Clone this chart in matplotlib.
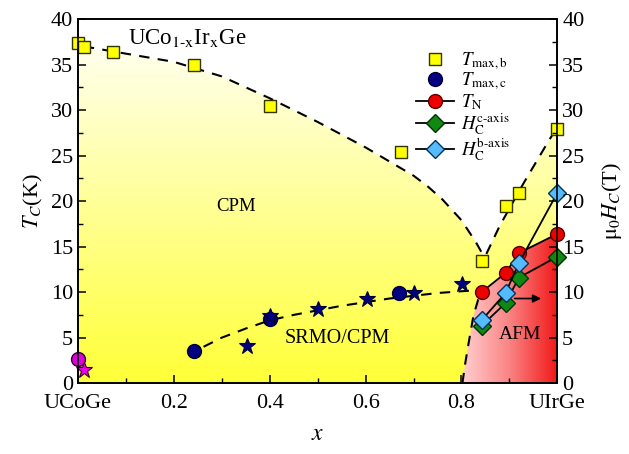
import numpy as np
import matplotlib
matplotlib.use("Agg")
import matplotlib.pyplot as plt
from matplotlib.patches import Polygon
from matplotlib.colors import LinearSegmentedColormap
from matplotlib.ticker import MultipleLocator

plt.rcParams['font.family'] = ['Liberation Serif', 'DejaVu Serif']
plt.rcParams['mathtext.fontset'] = 'stix'

# ---- data ----
tmaxb_x = [0.0, 0.012, 0.073, 0.242, 0.40, 0.673, 0.842, 0.892, 0.92, 1.0]
tmaxb_y = [37.4, 36.9, 36.4, 34.9, 30.4, 25.4, 13.4, 19.5, 20.9, 27.9]

tmaxc_x = [0.242, 0.40, 0.67]
tmaxc_y = [3.5, 7.0, 9.9]

star_x = [0.352, 0.40, 0.50, 0.602, 0.702, 0.802]
star_y = [4.1, 7.4, 8.2, 9.2, 9.9, 10.9]

ucoge_circle = (0.0, 2.7)
ucoge_star = (0.012, 1.4)

tn_x = [0.842, 0.892, 0.92, 1.0]
tn_y = [10.0, 12.1, 14.3, 16.4]

hc_c_x = [0.842, 0.892, 0.92, 1.0]
hc_c_y = [6.3, 8.8, 11.6, 13.9]

hc_b_x = [0.842, 0.892, 0.92, 1.0]
hc_b_y = [6.9, 9.9, 13.2, 20.9]

# guide-to-the-eye curves
guide_up_x = [0.012, 0.1, 0.2, 0.3, 0.4, 0.5, 0.6, 0.7, 0.73, 0.76, 0.8, 0.83, 0.846]
guide_up_y = [37.0, 36.2, 35.3, 33.7, 31.3, 28.7, 25.9, 22.8, 21.6, 20.2, 17.9, 15.5, 14.0]
guide_r_x = [0.852, 0.88, 0.93, 0.975, 0.99]
guide_r_y = [14.2, 17.3, 22.0, 26.0, 27.3]
guide_lo_x = [0.262, 0.30, 0.35, 0.40, 0.45, 0.50, 0.55, 0.60, 0.65, 0.70, 0.75, 0.80, 0.83]
guide_lo_y = [4.0, 5.0, 6.0, 6.9, 7.5, 8.0, 8.5, 8.9, 9.3, 9.6, 9.9, 10.1, 10.2]
guide_afm_x = [0.802, 0.808, 0.815, 0.825, 0.835, 0.842]
guide_afm_y = [0.0, 2.2, 4.4, 7.4, 9.2, 10.0]

fig = plt.figure(figsize=(6.29, 4.54), dpi=100)
ax = fig.add_axes([0.124, 0.156, 0.762, 0.802])

# yellow gradient region under the upper guide curve
ypoly = [(0, 0), (0, 37.4)] + list(zip(guide_up_x, guide_up_y)) + list(zip(guide_r_x, guide_r_y)) + [(1.0, 28.0), (1.0, 0)]
ypatch = Polygon(ypoly, closed=True, facecolor='none', edgecolor='none')
ax.add_patch(ypatch)
ycmap = LinearSegmentedColormap.from_list('yel', [(1, 1, 0.22), (1, 1, 0.58), (1, 1, 0.95)])
grad = np.linspace(0, 1, 256).reshape(-1, 1)
im = ax.imshow(grad, extent=[0, 1, 0, 38], origin='lower', cmap=ycmap, aspect='auto', zorder=1)
im.set_clip_path(ypatch)

# red AFM gradient region
rpoly = list(zip(guide_afm_x, guide_afm_y)) + list(zip(tn_x, tn_y)) + [(1.0, 0)]
rpatch = Polygon(rpoly, closed=True, facecolor='none', edgecolor='none')
ax.add_patch(rpatch)
rcmap = LinearSegmentedColormap.from_list('red', [(1, 0.82, 0.82), (0.98, 0.52, 0.52), (0.95, 0.1, 0.1)])
gradx = np.linspace(0, 1, 256).reshape(1, -1)
im2 = ax.imshow(gradx, extent=[0.80, 1.0, 0, 20], origin='lower', cmap=rcmap, aspect='auto', zorder=1.5)
im2.set_clip_path(rpatch)

ax.set_xlim(0, 1)
ax.set_ylim(0, 40)

dash = dict(color='black', linestyle=(0, (5, 4)), linewidth=1.5, zorder=3)
ax.plot(guide_up_x, guide_up_y, **dash)
ax.plot(guide_r_x, guide_r_y, **dash)
ax.plot(guide_lo_x, guide_lo_y, **dash)
ax.plot(guide_afm_x, guide_afm_y, **dash)

ax.plot(tmaxb_x, tmaxb_y, 's', ms=9, mfc='#ffff00', mec='#333300', mew=1.0, ls='none',
        zorder=5, clip_on=False, label=r'$T_{\rm max,b}$')
ax.plot(tmaxc_x, tmaxc_y, 'o', ms=10, mfc='#000080', mec='#000033', mew=1.0, ls='none',
        zorder=5, label=r'$T_{\rm max,c}$')
ax.plot(star_x, star_y, '*', ms=12, mfc='#000080', mec='#000033', mew=0.8, ls='none', zorder=5)
ax.plot([ucoge_circle[0]], [ucoge_circle[1]], 'o', ms=10, mfc='#dd00dd', mec='#330033', mew=1.0,
        zorder=5, clip_on=False)
ax.plot([ucoge_star[0]], [ucoge_star[1]], '*', ms=12, mfc='#ee00ee', mec='#330033', mew=0.8,
        zorder=5, clip_on=False)

ax.plot(tn_x, tn_y, '-o', color='black', lw=1.3, ms=10, mfc='#ee0000', mec='#550000', mew=1.0,
        zorder=6, clip_on=False, label=r'$T_{\rm N}$')
ax.plot(hc_c_x, hc_c_y, '-D', color='black', lw=1.3, ms=9, mfc='#118811', mec='#003300', mew=1.0,
        zorder=6, clip_on=False, label=r'$H_{\rm C}^{\rm c\text{-}axis}$')
ax.plot(hc_b_x, hc_b_y, '-D', color='black', lw=1.3, ms=9, mfc='#55bbff', mec='#003355', mew=1.0,
        zorder=7, clip_on=False, label=r'$H_{\rm C}^{\rm b\text{-}axis}$')

ax.annotate('', xy=(0.972, 9.3), xytext=(0.905, 9.3),
            arrowprops=dict(arrowstyle='-|>', color='black', lw=1.2, mutation_scale=12), zorder=8)

ax.text(0.104, 37.9, r'UCo$_{\rm 1\text{-}x}$Ir$_{\rm x}$Ge', fontsize=16.5, va='center', ha='left', zorder=8)
ax.text(0.33, 19.4, 'CPM', fontsize=13.5, ha='center', va='center', zorder=8)
ax.text(0.54, 4.9, 'SRMO/CPM', fontsize=14.5, ha='center', va='center', zorder=8)
ax.text(0.923, 5.3, 'AFM', fontsize=14, ha='center', va='center', zorder=8)

leg = ax.legend(loc='upper right', bbox_to_anchor=(0.93, 0.95), frameon=False, fontsize=13.5,
                handlelength=2.0, labelspacing=-0.02, handletextpad=0.4, borderpad=0.2)
leg.set_zorder(9)

ax.set_xticks([0, 0.2, 0.4, 0.6, 0.8, 1.0])
ax.set_xticklabels(['UCoGe', '0.2', '0.4', '0.6', '0.8', 'UIrGe'])
ax.xaxis.set_minor_locator(MultipleLocator(0.1))
ax.yaxis.set_major_locator(MultipleLocator(5))
ax.yaxis.set_minor_locator(MultipleLocator(2.5))
ax.tick_params(which='both', direction='in', labelsize=16, top=False)
ax.tick_params(which='major', length=6, width=1.1)
ax.tick_params(which='minor', length=3.5, width=1.0)
ax.tick_params(axis='x', pad=8)

ax2 = ax.twinx()
ax2.set_ylim(0, 40)
ax2.yaxis.set_major_locator(MultipleLocator(5))
ax2.yaxis.set_minor_locator(MultipleLocator(2.5))
ax2.tick_params(which='both', direction='in', labelsize=16)
ax2.tick_params(which='major', length=6, width=1.1)
ax2.tick_params(which='minor', length=3.5, width=1.0)
for a in (ax, ax2):
    for s in a.spines.values():
        s.set_linewidth(1.2)

ax.set_xlabel(r'$x$', fontsize=17, labelpad=8)
ax.set_ylabel(r'$T_C$(K)', fontsize=16, labelpad=4)
ax2.set_ylabel(r'$\mathrm{\mu}_0H_C$(T)', fontsize=16, labelpad=11)

fig.savefig('out.png', dpi=100)
